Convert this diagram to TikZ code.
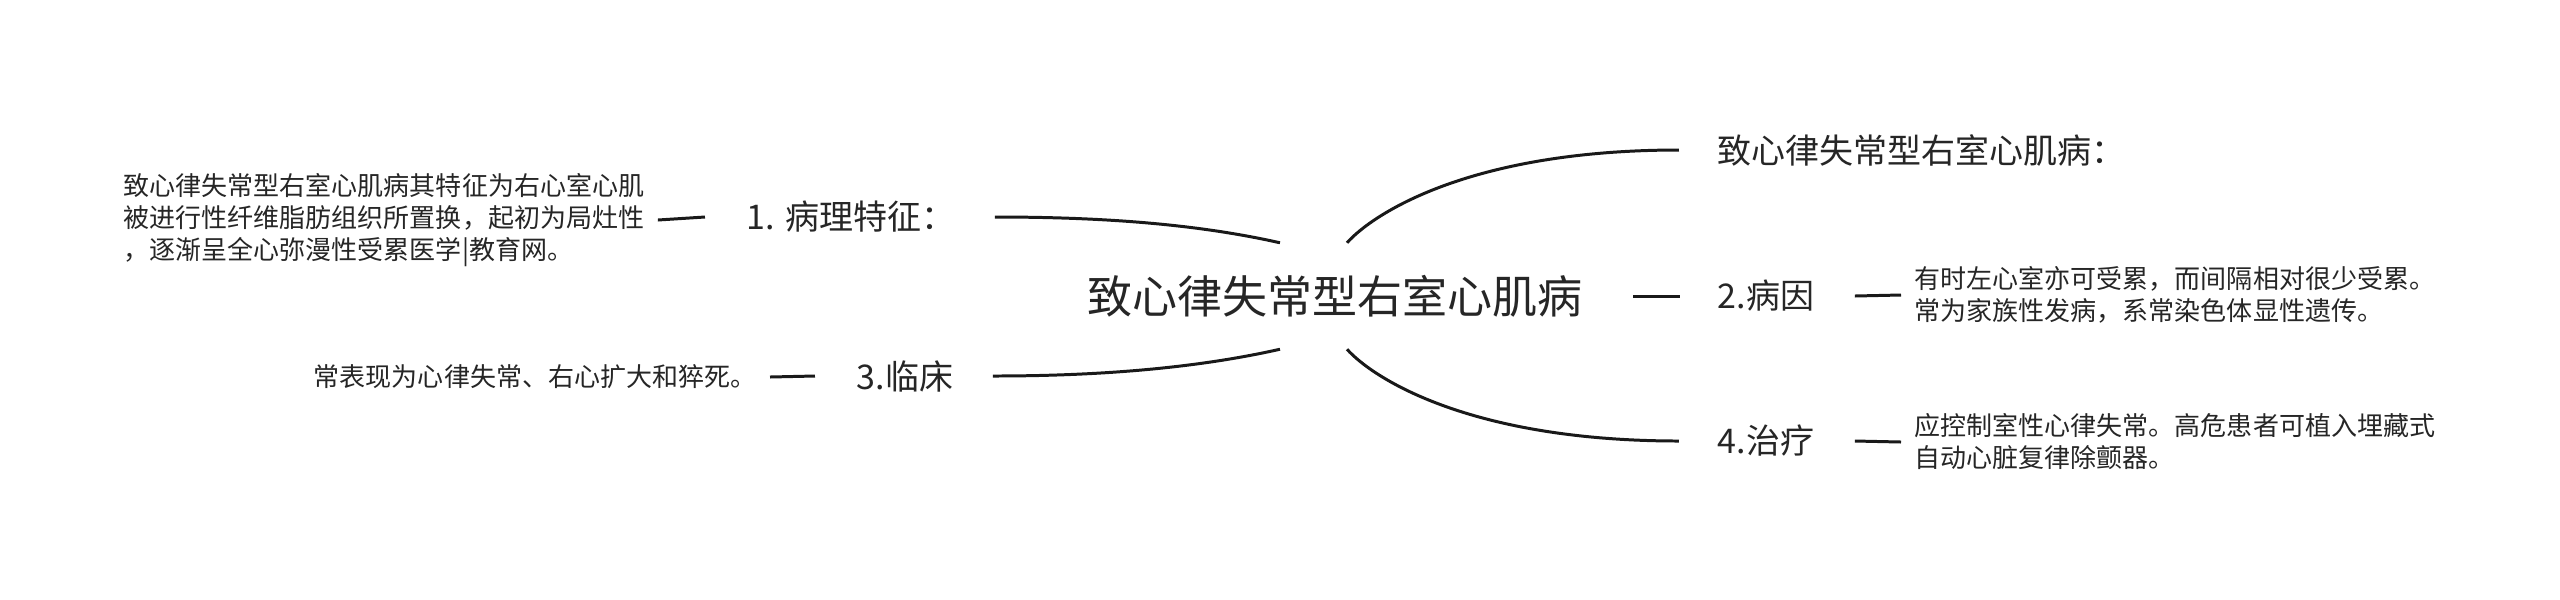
\documentclass[tikz,border=0pt]{standalone}
\usepackage{fontspec}
\setmainfont{Noto Sans CJK SC}

\begin{document}
\begin{tikzpicture}[x=0.01cm, y=-0.01cm,
	title/.style={font=\fontsize{12.8pt}{15pt}\selectfont, text=black!85, inner sep=0pt, minimum height=1.05cm},
	branch/.style={font=\fontsize{9.67pt}{12pt}\selectfont, text=black!85, inner sep=0pt},
	leaf/.style={font=\fontsize{7.4pt}{9.1pt}\selectfont, text=black!85, inner sep=0pt, align=left},
	link/.style={line width=0.85pt, draw=black!90},
	bar/.style={line width=0.85pt, draw=black!90}]
				\fill[white] (0,0) rectangle (2560,599);
				\useasboundingbox (0,0) rectangle (2560,599);
				
				\node[title] (root) at (1335,296) {致心律失常型右室心肌病};
				
				\node[branch, anchor=west] (b0) at (1717,150) {致心律失常型右室心肌病：};
				\node[branch, anchor=west] (b2) at (1717,296) {2.病因};
				\node[branch, anchor=west] (b4) at (1717,441) {4.治疗};
				\node[branch, anchor=west] (b1) at (746,217) {1. 病理特征：};
				\node[branch, anchor=west] (b3) at (856,376) {3.临床};
				
				\node[leaf, anchor=west] (l2) at (1914,295) {有时左心室亦可受累，而间隔相对很少受累。\\常为家族性发病，系常染色体显性遗传。};
				\node[leaf, anchor=west] (l4) at (1914,442) {应控制室性心律失常。高危患者可植入埋藏式\\自动心脏复律除颤器。};
				\node[leaf, anchor=west] (l1) at (123,220) {致心律失常型右室心肌病其特征为右心室心肌\\被进行性纤维脂肪组织所置换，起初为局灶性\\，逐渐呈全心弥漫性受累医学|教育网。};
				\node[leaf, anchor=east] (l3) at (757,377) {常表现为心律失常、右心扩大和猝死。};
				
				\draw[link] ([xshift=0.12cm]root.north) .. controls +(25,-28) and +(-211,0) .. ([xshift=-0.38cm]b0.west);
				\draw[link] ([xshift=0.12cm]root.south) .. controls +(25,28) and +(-211,0) .. ([xshift=-0.38cm]b4.west);
				\draw[link] ([xshift=-0.55cm]root.north) .. controls +(-80,-18) and +(113,0) .. ([xshift=0.39cm]b1.east);
				\draw[link] ([xshift=-0.55cm]root.south) .. controls +(-80,18) and +(113,0) .. ([xshift=0.39cm]b3.east);
				
				\draw[bar] ([xshift=0.5cm]root.east) -- ([xshift=-0.37cm]b2.west);
				\draw[bar] ([xshift=0.4cm]b2.east) -- ([xshift=-0.13cm]l2.west);
				\draw[bar] ([xshift=0.4cm]b4.east) -- ([xshift=-0.13cm]l4.west);
				\draw[bar] ([xshift=0.13cm]l1.east) -- ([xshift=-0.41cm]b1.west);
				\draw[bar] ([xshift=0.13cm]l3.east) -- ([xshift=-0.41cm]b3.west);
			\end{tikzpicture}
\end{document}
